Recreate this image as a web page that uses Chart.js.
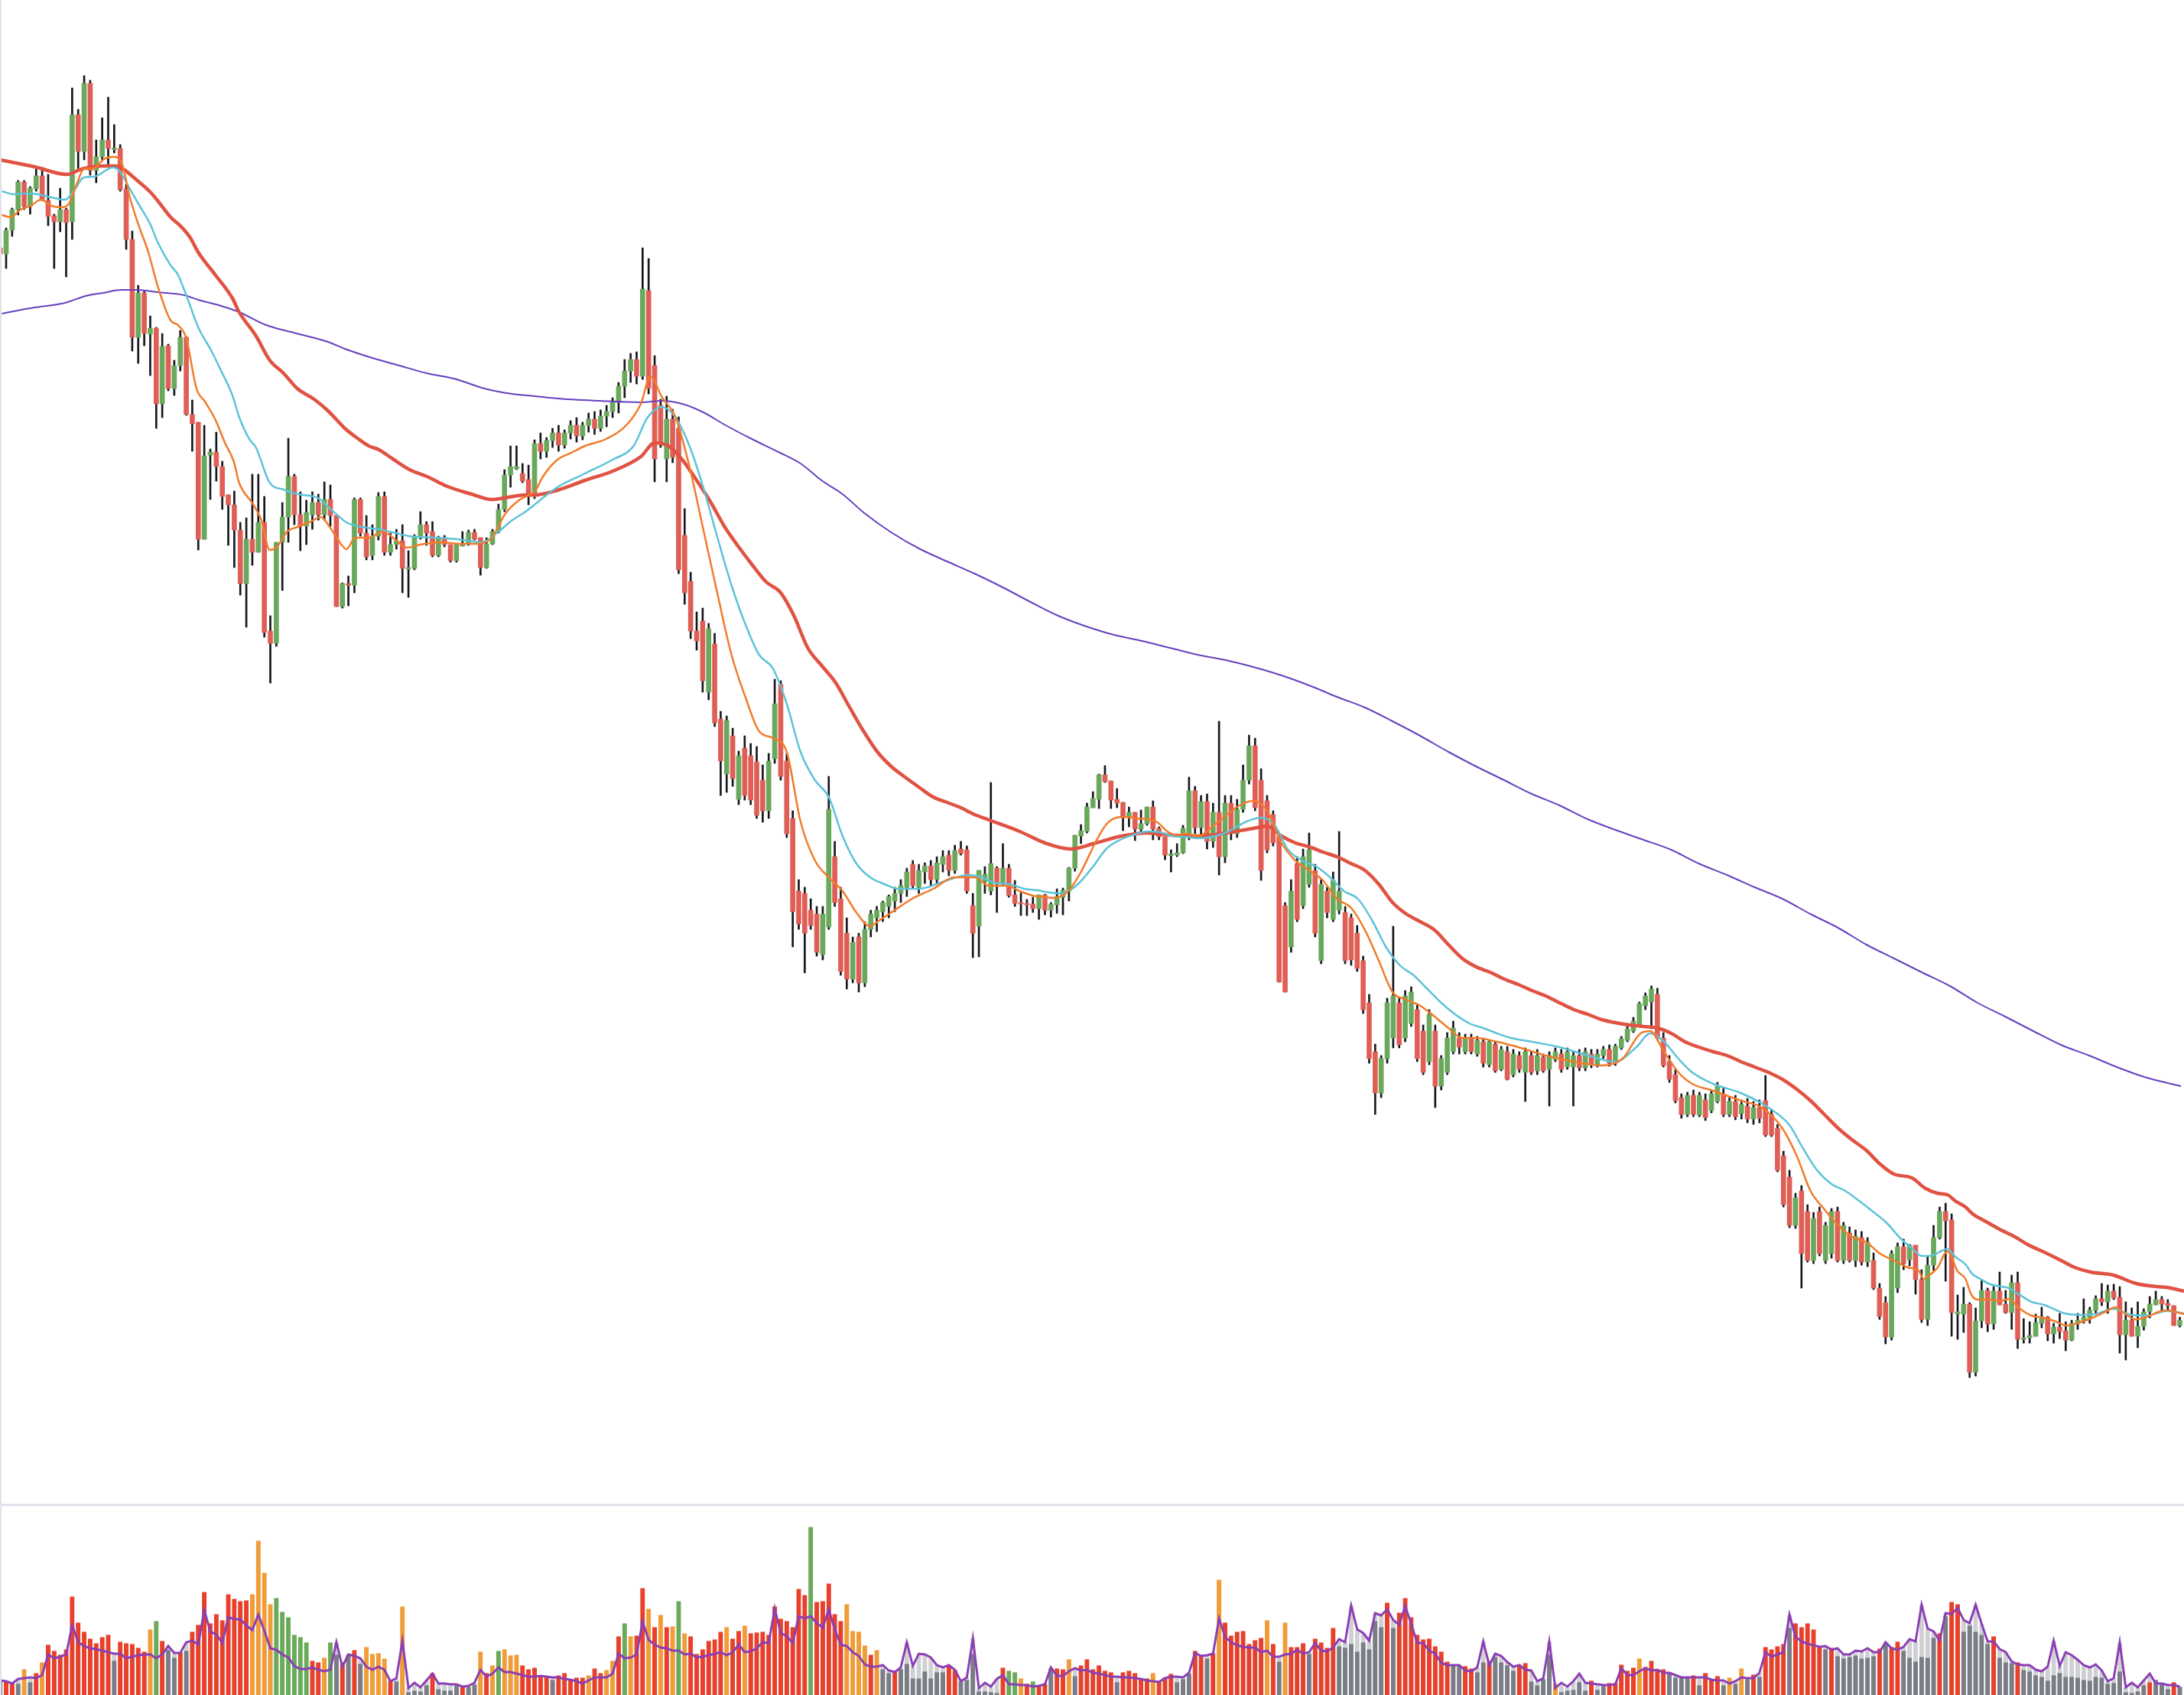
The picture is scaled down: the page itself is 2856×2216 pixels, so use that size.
<!DOCTYPE html>
<html><head><meta charset="utf-8">
<script src="https://cdn.jsdelivr.net/npm/chart.js@4.4.1/dist/chart.umd.min.js"></script>
<style>
html,body{margin:0;padding:0;background:#fff;}
#wrap{position:relative;width:2856px;height:2216px;overflow:hidden;background:#fff;}
canvas{position:absolute;left:0;}
.sep{position:absolute;background:#dfe3ea;}
</style></head>
<body>
<div id="wrap">
<canvas id="price" width="2856" height="1968" style="top:0"></canvas>
<canvas id="vol" width="2856" height="248" style="top:1968px"></canvas>
<div class="sep" style="left:0;top:1966px;width:2856px;height:3px"></div>
<div class="sep" style="left:0;top:0;width:2px;height:2216px"></div>
</div>
<script>
// ---- price data (one candle per session) ----
const open = [1644,1636,1667,1694,1730,1698,1721,1738,1706,1686,1678,1694,1678,1818,1770,1859,1745,1763,1785,1773,
1774,1721,1655,1527,1585,1531,1539,1440,1516,1460,1490,1527,1426,1416,1263,1373,1377,1358,1321,1308,
1275,1205,1263,1246,1285,1143,1127,1259,1292,1345,1295,1280,1295,1311,1295,1315,1294,1175,1205,1203,
1315,1271,1242,1267,1319,1246,1256,1261,1224,1225,1267,1282,1273,1242,1265,1256,1235,1254,1257,1272,
1265,1226,1257,1273,1302,1347,1355,1349,1341,1319,1388,1378,1392,1402,1386,1402,1412,1398,1412,1420,
1408,1424,1430,1442,1463,1483,1498,1476,1588,1490,1438,1368,1420,1408,1268,1208,1143,1156,1063,1126,
1028,956,1006,923,990,980,972,948,908,976,1073,973,898,803,800,778,773,720,756,848,
793,748,688,743,683,753,768,776,783,790,800,808,838,808,828,836,818,838,850,830,
858,857,784,757,815,803,833,813,833,798,788,787,786,780,798,778,785,795,803,833,
875,881,912,923,955,947,923,919,899,906,884,891,913,885,874,850,850,853,875,934,
886,920,868,906,848,918,878,910,948,993,948,921,903,875,784,730,839,784,812,830,
712,803,766,778,775,768,748,712,657,593,539,584,611,657,611,630,648,620,580,620,
548,566,593,611,593,611,590,606,576,603,570,593,563,588,566,588,568,586,570,583,
590,573,573,588,572,590,576,588,596,578,598,608,620,628,653,658,668,611,580,563,
533,511,536,510,530,516,528,538,511,528,512,522,505,520,529,511,493,457,429,366,
411,384,320,384,320,329,384,320,356,320,350,318,320,284,265,220,284,338,321,340,
295,243,314,350,384,373,250,250,263,174,241,281,237,280,263,252,291,217,219,221,
238,246,224,233,228,216,238,241,245,255,270,266,280,272,223,242,221,234,253,262,
269,264,261,235];
const high = [1646,1670,1696,1732,1732,1724,1750,1749,1740,1688,1722,1696,1853,1825,1869,1863,1785,1814,1841,1805,
1779,1727,1666,1595,1587,1555,1540,1532,1518,1497,1536,1528,1445,1416,1412,1381,1403,1365,1321,1326,
1285,1291,1348,1348,1319,1163,1259,1311,1395,1348,1325,1314,1325,1322,1338,1334,1294,1206,1215,1317,
1317,1294,1282,1324,1325,1271,1276,1282,1248,1269,1299,1286,1286,1267,1268,1256,1257,1273,1275,1276,
1265,1265,1276,1309,1354,1385,1385,1362,1360,1393,1402,1396,1408,1412,1406,1418,1422,1416,1428,1430,
1432,1438,1448,1468,1498,1506,1508,1644,1630,1503,1446,1450,1433,1423,1303,1220,1168,1173,1153,1140,
1038,1032,1016,986,1006,996,992,968,983,1080,1078,983,908,818,808,793,783,783,953,868,
808,768,743,748,763,778,783,790,798,808,818,833,843,838,840,843,848,856,856,863,
868,862,800,830,835,945,835,865,838,817,801,792,795,798,799,788,806,807,834,876,
890,918,933,956,967,947,937,919,913,906,909,913,921,887,874,857,865,889,952,940,
928,930,918,1025,928,928,923,968,1007,1003,963,928,908,880,788,818,848,858,879,838,
818,808,828,881,783,773,758,718,668,603,588,663,757,663,673,678,656,628,648,628,
588,618,633,618,616,616,613,610,608,606,600,600,596,593,598,593,596,590,593,598,
596,598,593,596,598,596,596,600,602,603,613,628,638,658,670,679,676,618,588,570,
538,540,543,540,538,543,553,546,533,536,530,532,528,530,562,518,498,463,438,408,
418,393,383,390,370,388,390,370,364,360,358,350,330,290,273,333,343,348,341,340,
308,325,366,390,395,381,275,285,265,258,294,284,286,305,281,301,305,244,240,250,
259,247,238,251,240,242,251,270,259,274,290,288,289,286,266,258,266,257,273,280,
273,269,261,246];
const low = [1634,1617,1659,1687,1694,1688,1718,1706,1673,1617,1665,1606,1655,1746,1759,1739,1729,1758,1750,1768,
1718,1642,1509,1493,1516,1477,1408,1422,1457,1451,1483,1425,1378,1249,1263,1315,1339,1302,1255,1226,
1190,1148,1229,1246,1135,1075,1123,1196,1259,1282,1248,1256,1276,1288,1288,1280,1175,1173,1176,1193,
1267,1236,1236,1262,1242,1242,1250,1193,1187,1223,1263,1255,1240,1240,1253,1233,1233,1254,1255,1262,
1216,1225,1256,1271,1299,1331,1354,1337,1308,1316,1368,1370,1383,1378,1382,1394,1390,1393,1403,1400,
1404,1410,1422,1428,1448,1468,1466,1472,1453,1338,1383,1338,1363,1218,1178,1133,1118,1063,1053,1018,
928,932,940,916,922,916,898,893,898,970,948,873,730,753,696,753,718,713,753,783,
693,675,683,671,678,743,750,763,768,776,788,796,806,800,813,810,813,828,823,826,
850,800,716,717,800,798,775,811,795,783,771,771,775,766,772,769,774,772,790,829,
865,879,912,911,945,911,912,882,887,869,880,889,870,870,844,828,848,852,870,878,
873,858,860,824,840,870,873,906,943,908,817,853,862,684,671,723,763,780,808,743,
708,768,763,773,708,706,698,643,578,511,533,578,598,598,606,626,580,563,576,520,
543,563,590,590,590,590,587,573,573,566,568,556,560,566,528,563,563,566,522,580,
566,570,522,568,568,572,573,584,574,575,596,606,618,626,648,623,608,573,553,526,
506,508,508,508,503,513,526,508,508,504,505,500,498,500,482,482,436,390,363,362,
284,318,316,326,316,323,318,316,318,312,314,312,282,243,211,216,278,308,313,276,
239,235,307,348,293,221,217,226,167,169,232,227,230,262,251,230,205,212,212,221,
232,215,212,218,202,215,230,238,238,251,261,251,269,199,190,221,206,229,245,262,
255,255,235,233];
const close = [1636,1667,1694,1730,1698,1722,1738,1706,1685,1678,1694,1677,1818,1770,1859,1745,1763,1785,1774,1774,
1720,1655,1527,1585,1532,1539,1440,1515,1460,1490,1527,1426,1414,1263,1372,1377,1358,1319,1308,1275,
1205,1263,1246,1285,1141,1127,1259,1292,1345,1295,1280,1298,1311,1295,1315,1294,1175,1205,1203,1315,
1271,1240,1267,1319,1246,1256,1261,1225,1226,1267,1282,1271,1242,1265,1256,1235,1256,1257,1272,1263,
1226,1257,1273,1302,1347,1358,1358,1339,1319,1388,1378,1392,1402,1386,1402,1412,1398,1412,1420,1408,
1424,1430,1442,1463,1483,1498,1476,1590,1460,1368,1390,1420,1370,1223,1193,1143,1130,1078,1146,1023,
973,1026,950,980,928,922,902,908,973,1048,953,878,776,760,748,758,723,773,910,788,
698,688,736,683,753,773,778,788,796,800,810,828,810,830,836,818,840,848,830,856,
852,803,748,830,825,839,813,833,797,787,786,785,780,798,778,786,796,804,833,876,
882,913,924,955,946,922,918,899,906,884,891,913,884,874,850,851,853,885,934,886,
920,868,906,848,918,878,910,948,993,912,830,857,866,684,671,803,766,848,857,748,
812,775,817,803,712,713,702,648,584,539,584,657,666,602,666,671,584,566,642,548,
584,611,624,599,611,593,608,578,606,568,596,557,590,570,593,566,588,568,588,593,
570,593,588,572,593,576,590,596,578,600,610,623,633,656,666,675,611,575,557,529,
511,536,511,536,507,538,548,511,528,508,524,505,520,506,484,484,438,393,366,402,
329,320,375,329,366,384,320,366,320,352,318,344,284,247,220,329,338,316,340,295,
243,314,350,384,372,252,253,263,174,241,281,237,280,262,252,291,217,219,222,239,
246,224,233,227,216,238,242,246,255,270,266,280,271,223,242,221,234,253,263,269,
263,261,235,242];

// ---- moving-average lines: [session index, value] ----
const maFast = [[0.3,1687],[1.7,1684],[3.4,1694],[5.1,1699],[6.8,1707],[8.5,1699],[10.2,1697],[11.4,1701],[12.8,1728],[13.9,1747],[15.6,1748],[17.3,1760],[18.8,1763],[20.2,1756],[21.6,1710],[23,1675],[24.7,1638],[26.2,1595],[28.4,1549],[29.6,1543],[31,1526],[32.7,1460],[34.1,1443],[35.8,1420],[37.5,1388],[38.9,1365],[39.8,1337],[42.1,1309],[43.5,1288],[44.9,1249],[46,1252],[47.8,1273],[49.5,1279],[51.7,1286],[53.4,1292],[54.9,1279],[56.3,1262],[57.7,1250],[59.1,1265],[61.4,1265],[63.7,1273],[65.9,1262],[67.7,1252],[69.9,1256],[73.3,1259],[76.7,1257],[79.6,1257],[81.9,1265],[84.1,1296],[86.4,1314],[88.1,1321],[89.1,1326],
[90.4,1345],[92.8,1367],[95.1,1376],[97.4,1385],[100.9,1394],[104.4,1413],[106.7,1440],[108.3,1476],[110.2,1449],[112.5,1422],[114.8,1358],[117.1,1276],[119.4,1194],[121.8,1112],[124.1,1057],[126.4,1012],[128.7,1003],[131,985],[133.3,894],[135.7,843],[138,821],[140.3,803],[142.6,775],[144.9,757],[146.1,763],[148.4,775],[151.9,793],[155.4,806],[158.9,821],[162.3,821],[164.7,810],[167.7,810],[169.8,803],[172,797],[174,795],[175.3,794],[176.6,796],[177.9,803],[180,828],[182.5,868],[184.2,890],[185.9,899],[187.6,900],[189.3,898],[191,897],[192.7,893],[194.4,881],[196.1,876],[197.4,878],[199.4,875],[202.9,894],[206.4,915],[208.7,921],[211,908],[213.4,866],[215.7,843],[218,830],[220.3,817],[222.6,793],[225,781],[227.3,752],[229.6,712],[231.9,671],[234.2,661],[236.5,653],[238.9,639],[241.2,624],[243.5,611],[245.8,611],[249.3,606],[252.8,599],[257.4,588],[262.1,580],[266.7,575],[270.2,584],[273.2,617],[274.8,620],[277.1,593],[279.5,566],[281.8,551],[285.3,542],[289.9,529],[293.4,520],[296.8,493],[299.2,457],[301.5,411],[303.8,387],[306.1,366],[308.4,351],[310.8,344],[313.1,329],[315.4,320],[317.7,311],[319.6,306],[320.3,296],[321.3,301],[322.6,310],[324.3,332],[326,306],[327.3,296],[328.3,275],[329.4,269],[331.1,269],[333.2,267],[334.5,270],[336.2,258],[338.3,248],[340.4,245],[342.1,241],[344.2,235],[345.9,238],[348.1,244],[350.6,253],[352.3,259],[353.6,252],[355.7,243],[357.4,246],[359.5,253],[360.8,255],[363.7,250]];
const maMid = [[0.3,1718],[2.3,1714],[4,1715],[6.3,1714],[8.5,1710],[10.8,1707],[12.5,1721],[13.9,1736],[15.6,1737],[18.8,1749],[19.9,1744],[21.6,1721],[23.3,1698],[25,1675],[26.2,1652],[28.4,1621],[29.6,1609],[31,1582],[33,1540],[35.2,1509],[37,1480],[38.7,1451],[39.8,1423],[41.5,1394],[42.6,1383],[44.9,1337],[47.2,1328],[49.5,1322],[52.9,1317],[55.1,1302],[57.7,1285],[60.3,1279],[63.1,1276],[65.9,1271],[68.2,1267],[72.8,1265],[76.2,1263],[80.2,1259],[83,1273],[85.3,1288],[87.5,1299],[89.1,1309],
[92.8,1331],[97.4,1349],[102,1367],[105.5,1385],[107.8,1422],[110.2,1436],[112.5,1422],[114.8,1385],[117.1,1331],[119.4,1267],[121.8,1203],[124.1,1152],[126.4,1112],[128.7,1094],[131,1048],[133.3,985],[135.7,948],[138,926],[140.3,875],[142.6,839],[144.9,821],[147.3,812],[149.6,806],[153,806],[157.7,817],[161.2,824],[163.5,821],[165.5,814],[168.1,812],[170.6,806],[172.8,804],[174.9,801],[176.6,800],[178.3,805],[180,816],[182.1,836],[184.2,858],[186.8,871],[189,877],[191,881],[193.1,880],[195.3,875],[197.4,874],[199.4,872],[204,879],[207.6,894],[209.9,899],[212.2,890],[214.5,857],[216.8,843],[219.2,835],[221.5,821],[223.8,803],[226.1,793],[228.4,766],[230.8,730],[233.1,706],[235.4,693],[237.7,675],[240,657],[242.3,642],[244.7,630],[247,624],[249.3,617],[251.6,611],[255.1,606],[259.7,599],[264.4,588],[269,580],[272.5,599],[274.8,617],[277.1,606],[279.5,584],[281.8,566],[285.3,551],[289.9,539],[294.5,520],[298,497],[300.3,466],[302.6,438],[305,420],[307.3,411],[309.6,398],[311.9,384],[314.2,369],[316.6,348],[318.4,336],[320,326],[321.3,326],[324.3,335],[325.6,325],[327.3,315],[328.5,302],[329.8,296],[331.1,290],[333.2,286],[334.5,284],[336.2,276],[338.3,266],[340.4,262],[343.8,251],[346.4,249],[348.9,250],[351.9,257],[354.9,249],[357.4,248],[360.8,254],[363.7,251]];
const maSlow = [[0,1759],[5.7,1750],[11.1,1740],[13.6,1747],[17,1751],[19.3,1751],[20.5,1747],[22.7,1733],[25,1717],[26.2,1706],[28.4,1684],[30.1,1672],[31.6,1658],[33,1638],[35.8,1609],[38.7,1578],[39.8,1560],[42.6,1529],[44.9,1497],[47.2,1480],[49.5,1460],[52.3,1446],[54.6,1431],[57.4,1408],[59.7,1394],[61.4,1385],[63.1,1380],[65.4,1368],[68.2,1354],[71.1,1345],[74.5,1332],[78.5,1322],[81.9,1315],[84.7,1318],[87.5,1321],[89.1,1321],[92.8,1327],[97.4,1340],[102,1352],[106.7,1371],[109,1389],[111.3,1385],[113.6,1367],[116,1340],[118.3,1312],[120.6,1280],[122.9,1254],[125.2,1230],[127.6,1207],[129.9,1194],[132.2,1163],[134.5,1121],[136.8,1098],[139.1,1076],[141.5,1043],[143.8,1012],[146.1,985],[148.4,966],[150.7,952],[153,939],[155.4,926],[157.7,919],[160,912],[162.3,903],[164.7,896],[169.8,881],[174,866],[178.3,858],[182.5,866],[186.8,875],[191,879],[195.3,876],[199.4,875],[204.1,879],[208.7,885],[211,888],[213.4,875],[215.7,866],[218,861],[220.3,854],[222.6,848],[225,839],[227.3,830],[229.6,812],[231.9,788],[234.2,773],[236.5,763],[238.9,752],[241.2,733],[243.5,715],[245.8,704],[248.1,697],[250.5,688],[252.8,681],[255.1,673],[257.4,666],[259.7,657],[262.1,648],[264.4,642],[266.7,635],[269,631],[271.3,628],[273.7,626],[276,624],[278.3,617],[280.6,606],[282.9,599],[285.3,593],[287.6,588],[289.9,580],[292.2,573],[294.5,566],[296.8,557],[299.2,544],[301.5,529],[303.8,511],[306.1,493],[308.4,478],[310.8,464],[313.1,446],[315.4,433],[318.4,428],[320.5,415],[322.6,408],[324.3,406],[325.6,398],[327.3,390],[328.5,381],[330.7,371],[333.2,360],[335.3,352],[337.9,340],[340.4,331],[343,321],[345.5,311],[348.1,305],[351.9,301],[355.7,290],[359.1,286],[360.8,285],[363.7,280]];
const maLong = [[0.3,1558],[5.7,1566],[10.8,1572],[14.2,1581],[17.1,1585],[20.2,1589],[22.7,1589],[26.2,1586],[30.7,1582],[33,1576],[36.4,1569],[39.8,1560],[44.3,1543],[48.9,1533],[54.6,1521],[57.4,1512],[62,1500],[66.5,1490],[71.1,1480],[75.6,1473],[80.7,1460],[85.3,1453],[89.1,1450],[92.8,1447],[99.7,1444],[106.7,1442],[110.2,1444],[113.6,1440],[117.1,1429],[120.6,1413],[125.2,1394],[129.9,1376],[133.3,1362],[136.8,1340],[140.3,1322],[143.8,1298],[148.4,1272],[153,1251],[157.7,1234],[162.3,1218],[167,1200],[171.6,1181],[176.2,1163],[180.9,1149],[185.5,1138],[190.2,1130],[194.8,1121],[199.4,1112],[204.1,1105],[208.7,1096],[213.4,1085],[218,1072],[222.6,1057],[227.3,1043],[231.9,1025],[236.5,1006],[241.2,985],[245.8,966],[250.5,948],[255.1,930],[259.7,915],[264.4,897],[269,883],[273.7,870],[278.3,857],[282.9,839],[287.6,824],[292.2,808],[296.8,793],[301.5,773],[306.1,755],[310.8,733],[315.4,715],[320,697],[324.7,679],[329.3,657],[333.9,639],[338.6,620],[343.2,602],[347.9,588],[352.5,573],[357.1,560],[363.2,548]];

// ---- volume pane ----
const volume = [18,18,16,15,34,17,29,43,66,58,53,60,129,95,83,74,68,76,79,45,
70,68,67,62,57,86,97,71,59,49,56,58,83,92,135,94,106,98,132,126,
123,124,132,202,160,119,127,109,102,79,76,69,45,43,49,69,53,43,53,59,
41,63,54,55,48,19,18,116,4,6,5,13,29,8,6,6,13,11,11,14,
57,29,39,58,60,52,53,39,34,36,25,25,20,26,29,20,23,23,26,35,
29,33,45,77,94,77,78,140,113,89,105,89,90,123,81,77,54,60,71,73,
83,89,74,84,91,81,82,83,79,116,100,97,89,139,131,220,122,123,146,106,
97,119,84,83,65,53,59,34,29,31,34,41,22,22,31,22,30,30,39,33,
18,20,54,5,5,4,3,36,32,30,22,15,18,13,15,35,35,34,47,25,
39,47,34,39,32,30,17,30,32,29,21,22,29,19,23,28,17,21,28,58,
53,48,55,151,95,78,83,84,67,72,75,98,67,44,95,63,63,68,54,74,
69,62,88,64,62,67,57,69,60,97,89,121,88,108,127,102,79,73,74,64,
57,44,39,39,38,35,30,43,45,50,43,39,32,40,42,18,13,21,53,15,
4,6,7,17,6,19,7,12,16,16,40,32,36,48,37,45,34,34,29,23,
23,23,26,13,29,21,25,13,23,15,35,21,27,24,63,60,64,67,88,94,
89,94,86,63,60,62,51,48,50,52,48,49,51,61,68,63,70,58,49,44,
50,49,75,81,103,122,119,83,91,83,79,67,77,49,43,42,43,33,31,26,
24,19,26,29,24,24,23,20,19,24,23,15,16,31,4,3,5,13,17,20,
14,8,17,11];
// bar colour class: r = red, o = orange, g = green, k = grey
const volumeClass = ("krrkokrorr" + "rrrrrrrrrk" + "rrrrrogrkk" + "rkrrrrrrrr" + "rroooogggg" +
"ggrrogkrkr" + "koooorkokk" + "kkrkkkkrkk" + "orogooorrr" + "rrkrrrrror" +
"roorgorror" + "orogorrrrr" + "rorrorrrrr" + "rrrrrgrrrr" + "roooorokkr" +
"kkkkkkkkrr" + "kkkkkkkrgg" + "orgrrkrrok" + "rrrrrrkrrr" + "rrorrrkkkr" +
"rkrorrrrrr" + "rorkorrrkr" + "rrrkkkkkkk" + "krkrrrrrrr" + "rrkkrrkkrk" +
"kkkrrkkkko" + "kkkkkrkkrr" + "rrrorrrrkk" + "kkrkrrrkok" + "okrkrrrrkr" +
"rrrrkrkkkk" + "kkkrkrrkkk" + "kkkrkrrkkk" + "kkrkkkrkkk" + "kkkkkkkkkk" +
"kkkkkkkkrk" + "kkrk").split("");
const volumeAvg = [19,18,15,21,22,23,22,26,53,48,50,53,91,69,64,61,60,58,56,54,
54,48,50,52,53,53,48,53,64,55,55,69,71,66,111,83,79,68,102,99,
99,91,85,105,84,61,59,53,49,38,34,34,36,33,31,33,69,37,53,51,
48,37,33,37,33,18,22,71,9,16,10,19,28,15,15,14,14,11,12,16,
33,24,28,36,30,30,28,26,24,24,25,24,23,23,21,20,18,15,19,23,
23,23,28,54,48,49,53,96,72,66,62,61,58,58,53,54,49,50,52,54,
56,52,56,66,56,57,61,69,68,113,81,77,68,103,100,103,94,88,112,86,
66,64,56,51,40,37,37,39,32,30,36,69,38,54,53,49,39,36,39,33,
18,23,74,9,16,11,21,26,14,14,13,13,11,12,14,36,25,25,31,35,
32,33,29,28,26,24,24,23,23,22,21,19,18,17,22,24,24,23,29,55,
51,52,54,100,76,69,65,63,62,62,56,58,50,50,53,54,59,54,56,68,
58,57,62,73,69,117,86,81,71,107,104,112,98,92,116,93,68,68,58,54,
42,39,39,39,32,31,36,70,39,54,51,43,37,39,33,32,18,22,70,9,
16,11,18,28,16,15,14,13,13,14,35,26,26,31,35,32,33,29,29,26,
23,23,23,23,23,20,19,19,15,18,23,22,22,29,56,50,53,56,105,76,
70,67,65,63,64,59,61,53,53,58,57,61,56,56,69,61,59,63,73,70,
118,87,83,71,107,106,114,98,94,118,93,70,70,60,56,44,40,39,39,33,
31,37,71,38,56,52,46,39,36,40,32,18,22,69,10,16,10,19,28,15,
15,13,13,11];

// ---- drawing ----
const N = close.length;
const idx = Array.from({length: N}, (_, i) => i);
const UP = '#6aa85c', DOWN = '#df5f56', WICK = '#16161e';
const xScale = {type: 'linear', min: -0.02, max: 363.7, display: false, offset: false, grid: {display: false}};
const common = {
  responsive: false, animation: false, devicePixelRatio: 1, events: [],
  layout: {padding: 0},
  plugins: {legend: {display: false}, tooltip: {enabled: false}, title: {display: false}}
};
const pts = arr => arr.map(p => ({x: p[0], y: p[1]}));
const lineDs = (arr, color, width, order) => ({
  type: 'line', data: pts(arr), borderColor: color, borderWidth: width,
  pointRadius: 0, fill: false, cubicInterpolationMode: 'monotone', order: order
});

new Chart(document.getElementById('price'), {
  type: 'bar',
  data: {datasets: [
    {data: idx.map(i => ({x: i, y: [low[i], high[i]]})), backgroundColor: WICK,
     barThickness: 2, grouped: false, borderWidth: 0, order: 10},
    {data: idx.map(i => {
        let a = Math.min(open[i], close[i]), b = Math.max(open[i], close[i]);
        if (b - a < 2) { const m = (a + b) / 2; a = m - 1; b = m + 1; }
        return {x: i, y: [a, b]};
      }),
     backgroundColor: idx.map(i => close[i] >= open[i] ? UP : DOWN),
     barThickness: 6, grouped: false, borderWidth: 0, order: 9},
    lineDs(maLong, '#6741bf', 2, 4),
    lineDs(maSlow, '#e05242', 4.5, 3),
    lineDs(maMid, '#5dc3d8', 2.5, 2),
    lineDs(maFast, '#f27b2b', 2.5, 1)
  ]},
  options: Object.assign({}, common, {
    scales: {x: xScale, y: {min: 0, max: 1968, display: false, grid: {display: false}}}
  })
});

const VC = {r: '#e8402a', o: '#f09c38', g: '#6aaa5a', k: '#7a7d86'};
const VCAP = {r: '#f3a99c', o: '#f8cf9c', g: '#b4d6ab', k: '#a5a7ad'};
new Chart(document.getElementById('vol'), {
  type: 'bar',
  data: {datasets: [
    {type: 'line', data: idx.map(i => ({x: i, y: volumeAvg[i]})), borderColor: '#8b3fb4',
     borderWidth: 3, pointRadius: 0, fill: false, tension: 0, order: 0},
    {data: idx.map(i => ({x: i, y: volume[i]})),
     backgroundColor: idx.map(i => VC[volumeClass[i]]),
     borderColor: idx.map(i => VCAP[volumeClass[i]]),
     borderWidth: {top: 1, left: 0, right: 0, bottom: 0},
     barThickness: 6, grouped: false, order: 1},
    {data: idx.map(i => ({x: i, y: volumeAvg[i]})), backgroundColor: '#cfd0d4',
     borderColor: '#e4e5e8', borderWidth: {top: 1, left: 0, right: 0, bottom: 0},
     barThickness: 6, grouped: false, order: 2}
  ]},
  options: Object.assign({}, common, {
    scales: {x: xScale, y: {min: 0, max: 248, display: false, grid: {display: false}}}
  })
});
</script>
</body></html>
